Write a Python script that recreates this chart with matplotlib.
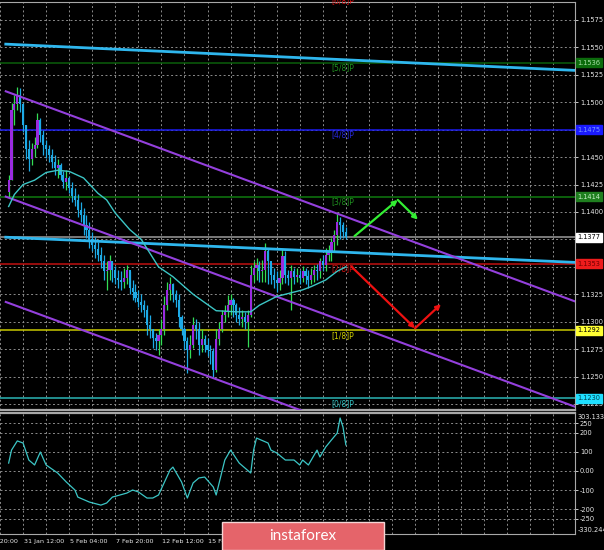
import matplotlib.pyplot as plt
from matplotlib.patches import Rectangle
from matplotlib.transforms import blended_transform_factory

# H4 candles, open of each bar = close of the previous bar
first_open = 1.1418
closes = [
    1.1429, 1.1493, 1.1498, 1.1507, 1.1498, 1.1479, 1.1457, 1.1448, 1.1457, 1.1461,
    1.1484, 1.1470, 1.1461, 1.1457, 1.1452, 1.1446, 1.1440, 1.1443, 1.1434, 1.1427,
    1.1431, 1.1422, 1.1415, 1.1411, 1.1402, 1.1397, 1.1388, 1.1384, 1.1375, 1.1370,
    1.1366, 1.1361, 1.1355, 1.1346, 1.1347, 1.1355, 1.1347, 1.1340, 1.1338, 1.1336,
    1.1340, 1.1347, 1.1331, 1.1327, 1.1322, 1.1318, 1.1315, 1.1311, 1.1297, 1.1293,
    1.1285, 1.1282, 1.1288, 1.1293, 1.1315, 1.1329, 1.1334, 1.1325, 1.1320, 1.1304,
    1.1293, 1.1282, 1.1274, 1.1279, 1.1297, 1.1293, 1.1279, 1.1284, 1.1279, 1.1274,
    1.1273, 1.1256, 1.1284, 1.1293, 1.1306, 1.1309, 1.1315, 1.1320, 1.1315, 1.1306,
    1.1302, 1.1304, 1.1300, 1.1306, 1.1343, 1.1349, 1.1352, 1.1346, 1.1347, 1.1364,
    1.1355, 1.1343, 1.1338, 1.1335, 1.1340, 1.1360, 1.1343, 1.1340, 1.1346, 1.1341,
    1.1343, 1.1340, 1.1346, 1.1342, 1.1338, 1.1343, 1.1347, 1.1346, 1.1355, 1.1352,
    1.1361, 1.1364, 1.1373, 1.1379, 1.1391, 1.1388, 1.1382, 1.1377]
highs = [
    1.1434, 1.1499, 1.1507, 1.1514, 1.1513, 1.1499, 1.1479, 1.1466, 1.1463, 1.1468,
    1.1490, 1.1486, 1.1475, 1.1466, 1.1461, 1.1457, 1.1452, 1.1448, 1.1445, 1.1437,
    1.1438, 1.1433, 1.1427, 1.1422, 1.1416, 1.1409, 1.1404, 1.1397, 1.1391, 1.1382,
    1.1377, 1.1373, 1.1368, 1.1361, 1.1355, 1.1361, 1.1355, 1.1351, 1.1347, 1.1346,
    1.1349, 1.1352, 1.1346, 1.1338, 1.1334, 1.1329, 1.1325, 1.1320, 1.1315, 1.1306,
    1.1293, 1.1290, 1.1293, 1.1302, 1.1323, 1.1336, 1.1341, 1.1335, 1.1329, 1.1325,
    1.1306, 1.1295, 1.1286, 1.1288, 1.1304, 1.1302, 1.1300, 1.1293, 1.1288, 1.1285,
    1.1279, 1.1276, 1.1293, 1.1300, 1.1311, 1.1315, 1.1324, 1.1325, 1.1322, 1.1317,
    1.1313, 1.1311, 1.1309, 1.1311, 1.1352, 1.1355, 1.1358, 1.1355, 1.1356, 1.1372,
    1.1366, 1.1353, 1.1349, 1.1346, 1.1347, 1.1366, 1.1364, 1.1347, 1.1352, 1.1349,
    1.1349, 1.1347, 1.1351, 1.1349, 1.1347, 1.1349, 1.1352, 1.1353, 1.1358, 1.1361,
    1.1367, 1.1370, 1.1376, 1.1384, 1.1398, 1.1395, 1.1391, 1.1386]
lows = [
    1.1414, 1.1429, 1.1479, 1.1493, 1.1491, 1.1473, 1.1448, 1.1437, 1.1443, 1.1450,
    1.1458, 1.1464, 1.1452, 1.1449, 1.1446, 1.1440, 1.1434, 1.1431, 1.1429, 1.1422,
    1.1420, 1.1417, 1.1409, 1.1405, 1.1395, 1.1391, 1.1379, 1.1376, 1.1367, 1.1364,
    1.1358, 1.1355, 1.1349, 1.1338, 1.1329, 1.1338, 1.1336, 1.1334, 1.1331, 1.1329,
    1.1331, 1.1334, 1.1325, 1.1320, 1.1318, 1.1313, 1.1309, 1.1304, 1.1288, 1.1285,
    1.1276, 1.1274, 1.1270, 1.1279, 1.1288, 1.1311, 1.1320, 1.1318, 1.1313, 1.1295,
    1.1288, 1.1274, 1.1253, 1.1267, 1.1276, 1.1284, 1.1270, 1.1272, 1.1272, 1.1269,
    1.1261, 1.1250, 1.1254, 1.1279, 1.1291, 1.1300, 1.1304, 1.1306, 1.1304, 1.1300,
    1.1297, 1.1295, 1.1293, 1.1277, 1.1304, 1.1336, 1.1338, 1.1336, 1.1336, 1.1336,
    1.1334, 1.1334, 1.1331, 1.1327, 1.1329, 1.1334, 1.1335, 1.1333, 1.1311, 1.1334,
    1.1336, 1.1334, 1.1336, 1.1334, 1.1331, 1.1334, 1.1336, 1.1338, 1.1340, 1.1346,
    1.1346, 1.1355, 1.1355, 1.1364, 1.1370, 1.1375, 1.1376, 1.1375]

# moving average (traced vertices)
ma_bars = [0, 2, 5, 9, 13, 17, 21, 26, 31, 34, 37, 42, 46, 52, 57, 64, 72, 79, 84,
           87, 93, 102, 105, 110, 114, 117]
ma_vals = [1.1405, 1.1416, 1.1425, 1.1429, 1.1436, 1.1438, 1.1437, 1.1431, 1.1417,
           1.1411, 1.1399, 1.1384, 1.1375, 1.1350, 1.1341, 1.1325, 1.1310, 1.1309,
           1.1309, 1.1315, 1.1323, 1.1329, 1.1332, 1.1338, 1.1346, 1.1350]

# CCI in the lower window (traced vertices)
cci_bars = [0, 1, 3, 5, 7, 9, 11, 13, 17, 20, 23, 24, 28, 32, 34, 36, 41, 43, 45,
            48, 50, 52, 56, 57, 60, 62, 64, 66, 68, 71, 72, 75, 77, 80, 82, 84, 85,
            86, 90, 91, 93, 96, 99, 101, 102, 104, 107, 108, 110, 112, 114, 115,
            116, 117]
cci_vals = [41, 109, 157, 146, 57, 31, 99, 31, -11, -58, -100, -137, -163, -179,
            -168, -137, -116, -100, -110, -142, -142, -126, 5, 20, -58, -142, -63,
            -37, -32, -84, -126, 57, 109, 41, 15, -11, 109, 172, 146, 109, 94, 57,
            57, 31, 57, 31, 109, 73, 125, 162, 198, 277, 230, 136]
cci_max, cci_min = 303.133, -330.244

# Murray math levels
level_prices = [1.1536, 1.1475, 1.1414, 1.1377, 1.1353, 1.1292, 1.1230]
level_tags = ['[5/8]P', '[4/8]P', '[3/8]P', '', '[2/8]P', '[1/8]P', '[0/8]P']
line_colors = ['#0b5f0b', '#1c1cf0', '#0f7a0f', '#9a9a9a', '#c01010', '#c8c800', '#2ab5b5']
tag_colors = ['#1f8f1f', '#2828d8', '#1f8f1f', '', '#cc1010', '#d0d000', '#30c0c0']
box_colors = ['#0c6b0c', '#1a1aff', '#1f7f1f', '#ffffff', '#ee1c1c', '#ffff33', '#1fdfff']
box_text = ['#a8e0a8', '#7a9cff', '#c8f0c8', '#000000', '#700000', '#000000', '#004050']

# trend lines, (bar, price) end points
cyan_lines = [[(-1, 1.1553), (197, 1.1529)], [(-1, 1.1377), (197, 1.1354)]]
purple_lines = [[(-1, 1.1510), (197, 1.1318)], [(-1, 1.1414), (197, 1.1222)],
                [(-1, 1.1318), (197, 1.1127)]]

# forecast arrows
green_path = [(120, 1.1378), (135, 1.1411), (142, 1.1393)]
red_path = [(119, 1.1350), (141, 1.1294), (150, 1.1316)]

date_bars = [-11, 5, 21, 37, 53, 69]
date_labels = ['28 Jan 20:00', '31 Jan 12:00', '5 Feb 04:00', '7 Feb 20:00',
               '12 Feb 12:00', '15 Feb 04:00']

PURPLE = '#9a2be0'
BLUE = '#1eaae6'
GREEN = '#33dd55'
GRID = '#8c8c8c'
FG = '#e8e8e8'

W, H = 604, 550


def fig_box(x0, y0, x1, y1):
    return [x0 / W, 1 - y1 / H, (x1 - x0) / W, (y1 - y0) / H]


fig = plt.figure(figsize=(6.04, 5.5), dpi=100, facecolor='black')
ax = fig.add_axes(fig_box(0, 2, 575, 410), facecolor='black')
cax = fig.add_axes(fig_box(0, 413, 575, 534), facecolor='black')

for a in (ax, cax):
    a.set_xlim(-0.13, 196.5)
    a.set_xticks(range(-3, 197, 8))
    a.tick_params(axis='x', length=0, labelbottom=False)
    a.grid(True, color=GRID, linestyle=(0, (2, 2.5)), lw=0.7)
    a.spines['left'].set_visible(False)
    for s in ('top', 'bottom', 'right'):
        a.spines[s].set_color('#a8a8a8')
    a.yaxis.tick_right()
    a.tick_params(axis='y', colors=FG, labelsize=4.8, length=2.5, width=0.6, pad=1)

ax.spines['bottom'].set_linewidth(1.6)
cax.spines['top'].set_linewidth(1.6)

# price axis; labels hidden where a level box sits on top of them
ax.set_ylim(1.12195, 1.15914)
price_ticks = [1.1225 + 0.0025 * k for k in range(15)]
ax.set_yticks(price_ticks)
ax.set_yticklabels(['' if any(abs(p - lv) < 0.0004 for lv in level_prices)
                    else f'{p:.4f}' for p in price_ticks])

# levels
tb = blended_transform_factory(ax.transAxes, ax.transData)
for p, tag, lc, tc, bc, bt in zip(level_prices, level_tags, line_colors, tag_colors,
                                  box_colors, box_text):
    ax.axhline(p, color=lc, lw=1.1, zorder=2)
    ax.text(1.004, p, f'{p:.4f}', transform=tb, color=bt, fontsize=4.8, va='center',
            ha='left', clip_on=False, zorder=10,
            bbox=dict(boxstyle='square,pad=0.25', facecolor=bc, edgecolor=bc))
    if tag:
        ax.text(112, p - 0.00003, tag, color=tc, fontsize=5.5, va='top', ha='left',
                zorder=6)
ax.text(112, 1.15886, '[6/8]P', color='#cc1010', fontsize=5.5, va='bottom',
        ha='left', clip_on=False)

for (x0, y0), (x1, y1) in cyan_lines:
    ax.plot([x0, x1], [y0, y1], color='#2fb7ee', lw=2.0, zorder=5)
for (x0, y0), (x1, y1) in purple_lines:
    ax.plot([x0, x1], [y0, y1], color='#9440dd', lw=1.5, zorder=5)

# candles
opens = [first_open] + closes[:-1]
for i, (o, c, h, l) in enumerate(zip(opens, closes, highs, lows)):
    up = c >= o
    ax.vlines(i, l, h, color=GREEN if up else BLUE, lw=0.9, zorder=3)
    ax.bar(i, c - o, bottom=o, width=0.75, color=PURPLE if up else BLUE,
           linewidth=0, zorder=4)

ax.plot(ma_bars, ma_vals, color='#3cc6c6', lw=1.0, zorder=6)

for path, col in ((green_path, '#33ee33'), (red_path, '#ee1111')):
    for start, end in zip(path[:-1], path[1:]):
        ax.annotate('', xy=end, xytext=start, zorder=7,
                    arrowprops=dict(arrowstyle='-|>', color=col, lw=1.6,
                                    mutation_scale=7, shrinkA=0, shrinkB=0))

# CCI window
cax.set_ylim(cci_min, cci_max)
cci_ticks = [250, 200, 100, 0, -100, -200, -250]
cax.set_yticks(cci_ticks)
cax.set_yticklabels(['250', '200', '100', '0.00', '-100', '-200', '-250'])
cax.plot(cci_bars, cci_vals, color='#3cc6c6', lw=0.9)
cax.text(1.004, 0.97, f'{cci_max:.3f}', transform=cax.transAxes, color=FG,
         fontsize=4.8, va='center', ha='left')
cax.text(1.004, 0.03, f'{cci_min:.3f}', transform=cax.transAxes, color=FG,
         fontsize=4.8, va='center', ha='left')

# time labels
tx = blended_transform_factory(cax.transData, cax.transAxes)
for b, lab in zip(date_bars, date_labels):
    cax.text(b + 0.3, -0.045, lab, transform=tx, color=FG, fontsize=4.6, va='top',
             ha='left', clip_on=False)

# logo
fig.add_artist(Rectangle((222 / W, 0), 162 / W, 28 / H, transform=fig.transFigure,
                         facecolor='#e5646a', edgecolor='#f4d4d4', lw=1, zorder=20))
fig.text(303 / W, 14 / H, 'instaforex', color='white', fontsize=11,
         family='Lato', ha='center', va='center', zorder=21)

fig.savefig('out.png', dpi=100, facecolor='black')
